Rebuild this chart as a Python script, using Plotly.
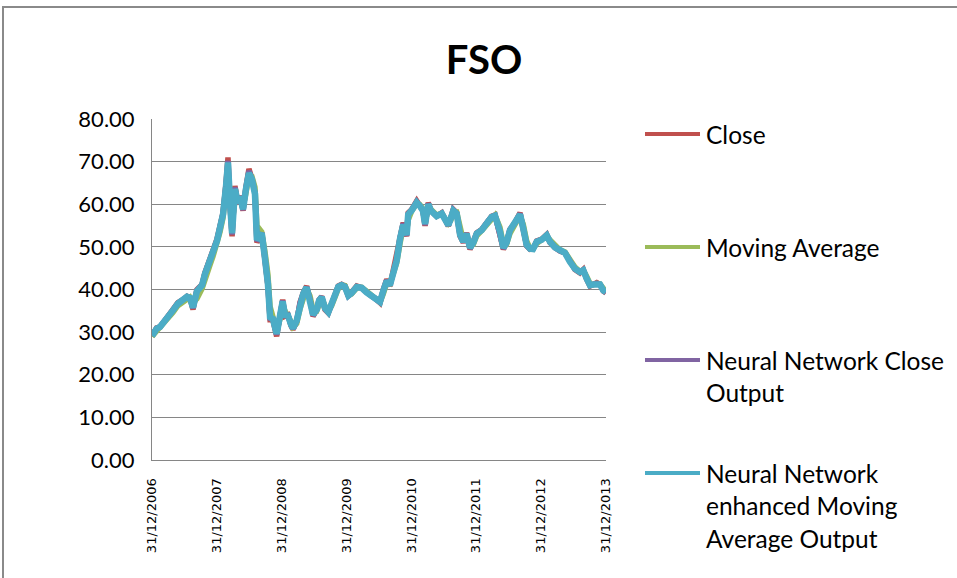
import plotly.graph_objects as go

dates = [
    "2006-12-31", "2007-01-26", "2007-02-14", "2007-03-03", "2007-03-31", "2007-04-28", "2007-05-26", "2007-06-24",
    "2007-07-16", "2007-08-02", "2007-08-19", "2007-09-10", "2007-10-09", "2007-10-25", "2007-11-23", "2007-12-10",
    "2008-01-01", "2008-01-18", "2008-02-04", "2008-02-21", "2008-03-03", "2008-03-14", "2008-03-26", "2008-04-11",
    "2008-04-28", "2008-05-10", "2008-05-27", "2008-06-12", "2008-06-29", "2008-07-16", "2008-08-02", "2008-08-13",
    "2008-09-09", "2008-09-27", "2008-10-14", "2008-10-26", "2008-11-11", "2008-12-02", "2008-12-21", "2009-01-05",
    "2009-01-18", "2009-02-04", "2009-02-21", "2009-03-04", "2009-03-25", "2009-04-13", "2009-05-01", "2009-05-20",
    "2009-06-08", "2009-06-25", "2009-07-16", "2009-07-29", "2009-08-13", "2009-08-31", "2009-09-19", "2009-10-08",
    "2009-10-27", "2009-11-14", "2009-12-03", "2009-12-22", "2010-01-10", "2010-01-29", "2010-02-26", "2010-03-26",
    "2010-04-23", "2010-05-21", "2010-06-09", "2010-06-28", "2010-07-07", "2010-07-26", "2010-08-14", "2010-09-01",
    "2010-09-20", "2010-10-09", "2010-10-28", "2010-11-15", "2010-12-04", "2010-12-13", "2011-01-02", "2011-01-30",
    "2011-02-17", "2011-03-06", "2011-03-18", "2011-04-05", "2011-04-20", "2011-05-03", "2011-05-22", "2011-06-20",
    "2011-07-08", "2011-07-27", "2011-08-11", "2011-08-24", "2011-09-12", "2011-10-01", "2011-10-19", "2011-11-07",
    "2011-11-26", "2011-12-15", "2012-01-03", "2012-01-31", "2012-02-28", "2012-03-27", "2012-04-15", "2012-05-13",
    "2012-06-01", "2012-06-19", "2012-07-08", "2012-08-05", "2012-09-03", "2012-09-21", "2012-10-10", "2012-10-29",
    "2012-11-15", "2012-12-06", "2013-01-03", "2013-01-31", "2013-02-19", "2013-03-19", "2013-04-16", "2013-05-14",
    "2013-06-11", "2013-07-09", "2013-08-06", "2013-08-25", "2013-09-13", "2013-10-02", "2013-10-21", "2013-11-09",
    "2013-11-27", "2013-12-16", "2013-12-31",
]

close = [
    29.0, 31.0, 31.2, 32.2, 33.7, 35.3, 36.9, 37.6, 38.4, 38.0, 35.3, 40.0, 41.2, 43.9, 47.5, 48.6,
    51.8, 54.9, 58.0, 65.0, 71.0, 60.0, 52.5, 64.3, 60.0, 62.0, 58.5, 64.0, 68.3, 66.0, 62.8, 51.0,
    53.4, 47.0, 40.8, 32.9, 32.9, 29.0, 34.5, 37.6, 33.7, 34.0, 31.5, 30.6, 32.5, 37.0, 39.2, 40.8,
    37.6, 33.7, 35.3, 37.6, 38.4, 35.3, 34.5, 36.9, 39.2, 40.8, 41.2, 40.8, 38.4, 39.2, 40.8, 40.4,
    39.2, 38.4, 38.0, 37.0, 36.9, 40.0, 42.4, 40.8, 44.7, 47.1, 52.5, 55.7, 52.5, 58.0, 58.8, 60.8,
    59.6, 58.5, 54.9, 60.4, 58.5, 58.0, 57.2, 58.0, 56.5, 54.9, 57.0, 58.8, 58.0, 52.5, 51.0, 53.3,
    49.4, 51.0, 53.3, 54.1, 55.7, 57.2, 57.5, 53.3, 49.4, 51.0, 54.1, 55.7, 58.0, 54.1, 50.2, 49.4,
    49.5, 51.4, 51.8, 52.9, 51.0, 49.8, 49.0, 48.6, 46.3, 44.7, 43.9, 44.7, 42.4, 40.8, 41.2, 41.6,
    41.2, 39.6, 39.2,
]

moving_average = [
    29.0, 30.2, 31.0, 31.8, 33.0, 34.6, 36.2, 37.2, 38.0, 38.2, 37.0, 37.8, 40.2, 42.5, 45.8, 47.8,
    50.5, 53.5, 56.8, 62.0, 67.5, 63.0, 56.0, 60.5, 60.8, 61.5, 59.5, 62.5, 66.8, 66.5, 64.0, 55.0,
    53.5, 49.0, 43.5, 36.0, 33.5, 30.5, 33.0, 36.2, 35.0, 34.0, 32.5, 31.2, 32.0, 35.5, 38.4, 40.2,
    38.5, 35.2, 35.0, 36.8, 38.0, 36.2, 35.0, 36.2, 38.4, 40.2, 41.0, 40.9, 39.2, 39.0, 40.3, 40.5,
    39.6, 38.7, 38.2, 37.4, 37.0, 39.0, 41.5, 41.3, 43.5, 46.2, 50.8, 54.5, 53.4, 56.3, 58.4, 60.1,
    59.9, 58.9, 56.0, 58.8, 58.8, 58.2, 57.5, 57.8, 56.9, 55.5, 56.3, 58.2, 58.2, 54.2, 51.6, 52.6,
    50.5, 50.6, 52.6, 53.8, 55.2, 56.7, 57.4, 54.6, 50.6, 50.6, 53.1, 55.2, 57.3, 55.3, 51.4, 49.7,
    49.5, 50.8, 51.6, 52.6, 51.6, 50.2, 49.3, 48.8, 47.0, 45.3, 44.2, 44.5, 43.1, 41.4, 41.1, 41.5,
    41.3, 40.1, 39.5,
]

nn_close_output = [
    29.2, 30.9, 31.3, 32.1, 33.6, 35.2, 36.8, 37.5, 38.3, 38.0, 35.6, 39.8, 41.1, 43.8, 47.3, 48.5,
    51.6, 54.7, 57.8, 64.6, 70.2, 60.3, 52.9, 64.0, 60.1, 61.9, 58.6, 63.8, 67.8, 65.9, 62.6, 51.3,
    53.3, 47.2, 41.0, 33.2, 33.0, 29.4, 34.3, 37.4, 33.9, 34.0, 31.7, 30.8, 32.6, 36.9, 39.1, 40.6,
    37.7, 33.9, 35.3, 37.5, 38.3, 35.5, 34.6, 36.8, 39.1, 40.7, 41.1, 40.7, 38.5, 39.2, 40.7, 40.4,
    39.3, 38.5, 38.0, 37.1, 37.0, 39.9, 42.2, 40.9, 44.5, 47.0, 52.2, 55.5, 52.6, 57.8, 58.7, 60.6,
    59.6, 58.5, 55.1, 60.2, 58.5, 58.0, 57.2, 57.9, 56.5, 55.0, 56.9, 58.7, 57.9, 52.7, 51.1, 53.2,
    49.6, 51.0, 53.2, 54.0, 55.6, 57.1, 57.4, 53.4, 49.6, 51.0, 54.0, 55.6, 57.8, 54.2, 50.3, 49.5,
    49.5, 51.3, 51.7, 52.8, 51.1, 49.8, 49.0, 48.6, 46.4, 44.8, 44.0, 44.6, 42.5, 40.9, 41.2, 41.5,
    41.2, 39.7, 39.3,
]

nn_enhanced_ma_output = [
    29.1, 30.8, 31.2, 32.0, 33.5, 35.1, 36.7, 37.5, 38.3, 38.0, 35.8, 39.6, 41.0, 43.6, 47.1, 48.4,
    51.4, 54.5, 57.6, 64.2, 69.8, 60.6, 53.2, 63.6, 60.2, 61.8, 58.8, 63.5, 67.3, 65.8, 62.4, 51.6,
    53.2, 47.4, 41.3, 33.5, 33.1, 29.6, 34.1, 37.2, 34.0, 33.9, 31.8, 30.9, 32.7, 36.8, 39.0, 40.5,
    37.8, 34.1, 35.3, 37.4, 38.2, 35.6, 34.7, 36.7, 39.0, 40.6, 41.0, 40.6, 38.6, 39.2, 40.6, 40.4,
    39.3, 38.5, 38.0, 37.2, 37.1, 39.7, 42.0, 41.0, 44.3, 46.8, 51.9, 55.2, 52.8, 57.6, 58.6, 60.4,
    59.6, 58.5, 55.4, 60.0, 58.5, 58.0, 57.2, 57.8, 56.5, 55.1, 56.8, 58.5, 57.8, 52.9, 51.2, 53.1,
    49.8, 51.0, 53.1, 53.9, 55.5, 57.0, 57.3, 53.6, 49.8, 51.0, 53.9, 55.5, 57.6, 54.3, 50.5, 49.6,
    49.5, 51.2, 51.7, 52.7, 51.2, 49.9, 49.1, 48.6, 46.5, 44.9, 44.1, 44.5, 42.6, 41.0, 41.2, 41.4,
    41.2, 39.8, 39.4,
]

series_names = [
    "Close",
    "Moving Average",
    "Neural Network Close Output",
    "Neural Network enhanced Moving Average Output",
]
legend_lines = [
    ["Close"],
    ["Moving Average"],
    ["Neural Network Close", "Output"],
    ["Neural Network", "enhanced Moving", "Average Output"],
]
colors = ["#C0504D", "#9BBB59", "#8064A2", "#4BACC6"]

tick_dates = ["2006-12-31", "2007-12-31", "2008-12-31", "2009-12-31",
              "2010-12-31", "2011-12-31", "2012-12-31", "2013-12-31"]
tick_labels = ["31/12/2006", "31/12/2007", "31/12/2008", "31/12/2009",
               "31/12/2010", "31/12/2011", "31/12/2012", "31/12/2013"]
y_ticks = [0, 10, 20, 30, 40, 50, 60, 70, 80]

# ---- layout geometry (screen pixels; body margin removed below) ----
W, H = 957, 578
L, R, T, B = 152, 606, 119, 460


def px(x):
    return (x - L) / (R - L)


def py(y):
    return (B - y) / (B - T)


fig = go.Figure()
all_series = [close, moving_average, nn_close_output, nn_enhanced_ma_output]
widths = [5.5, 5.5, 5.5, 6.5]
for name, vals, col, w in zip(series_names, all_series, colors, widths):
    fig.add_trace(go.Scatter(x=dates, y=vals, name=name, mode="lines",
                             line=dict(color=col, width=w), showlegend=False))

GRID = "#868686"
fig.update_layout(
    width=W, height=H,
    margin=dict(l=L, r=W - R, t=T, b=H - B, pad=0),
    paper_bgcolor="white", plot_bgcolor="white",
    title=dict(text="<b>FSO</b>", xref="paper", x=px(484), xanchor="center",
               yref="container", y=1 - 60 / H, yanchor="middle",
               font=dict(family="Lato", size=40, color="black")),
    xaxis=dict(type="date", range=[tick_dates[0], tick_dates[-1]],
               tickvals=tick_dates, ticktext=tick_labels, tickangle=-90,
               showgrid=False, showline=True, linecolor=GRID, linewidth=1,
               ticks="", ticklabelstandoff=12,
               tickfont=dict(family="DejaVu Sans", size=13, color="black"),
               zeroline=False),
    yaxis=dict(range=[0, 80], tickvals=y_ticks, tickformat=".2f",
               showgrid=True, gridcolor=GRID, gridwidth=1,
               showline=True, linecolor=GRID, linewidth=1,
               ticks="", ticklabelstandoff=12, zeroline=False,
               tickfont=dict(family="Lato", size=22, color="black")),
    showlegend=False,
)

# outer chart border (left and top edges visible in the frame)
fig.add_shape(type="rect", xref="paper", yref="paper",
              x0=px(3), x1=px(1000), y0=py(620), y1=py(7),
              line=dict(color="#8a8a8a", width=2), fillcolor="rgba(0,0,0,0)", layer="below")

# legend drawn manually to match Excel's layout
legend_first_y = [134, 247, 360, 473]
line_gap = 32.5
for lines, col, y0 in zip(legend_lines, colors, legend_first_y):
    fig.add_shape(type="line", xref="paper", yref="paper",
                  x0=px(645), x1=px(700), y0=py(y0), y1=py(y0),
                  line=dict(color=col, width=4))
    for k, t in enumerate(lines):
        fig.add_annotation(text=t, xref="paper", yref="paper",
                           x=px(704), y=py(y0 + k * line_gap),
                           xanchor="left", yanchor="middle", showarrow=False,
                           font=dict(family="Lato", size=24.5, color="black"))

fig.write_html(
    "out.html",
    config={"displayModeBar": False},
    post_script="document.body.style.margin='0';document.body.style.overflow='hidden';",
)
